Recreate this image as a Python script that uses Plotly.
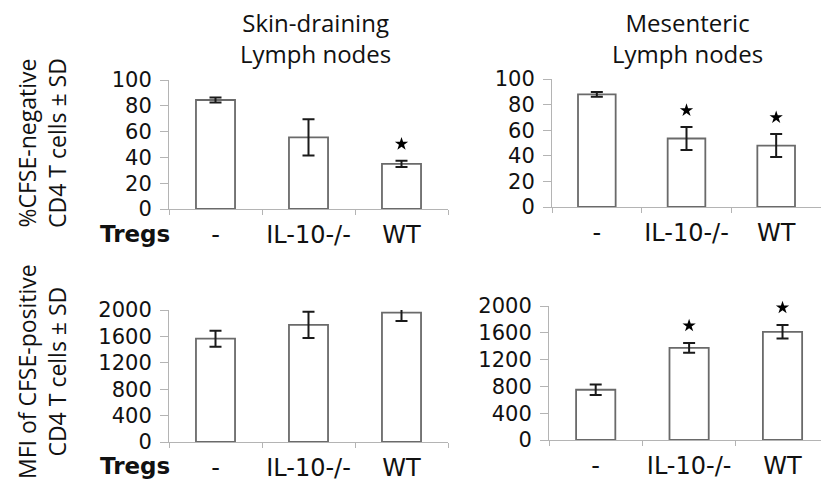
import plotly.graph_objects as go

# Treg groups along the x axis
groups = ["-", "IL-10-/-", "WT"]

# %CFSE-negative CD4 T cells (mean, SD) and significance flags
skin_neg_mean = [84.5, 55.5, 35.0]
skin_neg_sd = [2.0, 14.0, 2.4]
skin_neg_sig = [False, False, True]

mes_neg_mean = [88.0, 53.5, 48.0]
mes_neg_sd = [1.8, 9.0, 9.0]
mes_neg_sig = [False, True, True]

# MFI of CFSE-positive CD4 T cells (mean, SD) and significance flags
skin_mfi_mean = [1565, 1775, 1960]
skin_mfi_sd = [120, 200, 125]
skin_mfi_sig = [False, False, False]

mes_mfi_mean = [750, 1375, 1615]
mes_mfi_sd = [80, 72, 100]
mes_mfi_sig = [False, True, True]

pct_ticks = [0, 20, 40, 60, 80, 100]
mfi_ticks = [0, 400, 800, 1200, 1600, 2000]

W, H = 821, 493
AXIS_GRAY = "#b4b4b4"
BAR_EDGE = "#6a6a6a"
TICK_FONT = dict(family="DejaVu Sans", size=21, color="#111111")
CAT_FONT = dict(family="DejaVu Sans", size=24, color="#111111")
TEXT_FONT = dict(family="Open Sans", size=24, color="#111111")


def px_x(p):
    return p / W


def px_y(p):
    return (H - p) / H


# panel definitions: data, axis suffix, y max, ticks, x domain (px), y domain (px), x range
panels = [
    (skin_neg_mean, skin_neg_sd, skin_neg_sig, "", 100, pct_ticks,
     (169, 448), (209, 80), [-0.5, 2.5]),
    (mes_neg_mean, mes_neg_sd, mes_neg_sig, "2", 100, pct_ticks,
     (552, 821), (207, 79), [-0.5, 2.5]),
    (skin_mfi_mean, skin_mfi_sd, skin_mfi_sig, "3", 2000, mfi_ticks,
     (169, 448), (442, 310), [-0.5, 2.5]),
    (mes_mfi_mean, mes_mfi_sd, mes_mfi_sig, "4", 2000, mfi_ticks,
     (549, 821), (440, 306), [-0.5, 2.412]),
]

fig = go.Figure()
layout_axes = {}

for mean, sd, sig, suf, ymax, ticks, xd, yd, xr in panels:
    xa, ya = "x" + suf, "y" + suf
    fig.add_trace(go.Bar(
        x=groups, y=mean, width=0.42,
        marker=dict(color="white", line=dict(color=BAR_EDGE, width=1.8)),
        error_y=dict(type="data", array=sd, visible=True,
                     color="#1a1a1a", thickness=2, width=6),
        xaxis=xa, yaxis=ya, hoverinfo="skip", cliponaxis=False,
    ))
    star_x = [g for g, s in zip(groups, sig) if s]
    star_y = [m + e + 0.13 * ymax for m, e, s in zip(mean, sd, sig) if s]
    if star_x:
        fig.add_trace(go.Scatter(
            x=star_x, y=star_y, mode="markers", cliponaxis=False,
            marker=dict(symbol="star", size=10, color="black"),
            xaxis=xa, yaxis=ya, hoverinfo="skip",
        ))
    layout_axes["xaxis" + suf] = dict(
        domain=[px_x(xd[0]), px_x(xd[1])], range=xr, type="category",
        anchor=ya, showline=True, linecolor=AXIS_GRAY, linewidth=1,
        ticks="outside", tickson="boundaries", ticklen=5, tickcolor=AXIS_GRAY,
        tickfont=CAT_FONT, ticklabelstandoff=4, tickangle=0,
        showgrid=False, zeroline=False, fixedrange=True, automargin=False,
    )
    layout_axes["yaxis" + suf] = dict(
        domain=[px_y(yd[0]), px_y(yd[1])], range=[0, ymax],
        anchor=xa, tickmode="array", tickvals=ticks,
        showline=True, linecolor=AXIS_GRAY, linewidth=1,
        ticks="outside", ticklen=8, tickcolor=AXIS_GRAY,
        tickfont=TICK_FONT, ticklabelstandoff=4,
        showgrid=False, zeroline=False, fixedrange=True, automargin=False,
    )

annotations = [
    dict(text="Skin-draining<br>Lymph nodes", x=px_x(315), y=px_y(38),
         xanchor="center", yanchor="middle", font=TEXT_FONT),
    dict(text="Mesenteric<br>Lymph nodes", x=px_x(687), y=px_y(38),
         xanchor="center", yanchor="middle", font=TEXT_FONT),
    dict(text="%CFSE-negative<br>CD4 T cells ± SD", x=px_x(42), y=px_y(143),
         textangle=-90, xanchor="center", yanchor="middle",
         font=dict(family="Open Sans", size=23, color="#111111")),
    dict(text="MFI of CFSE-positive<br>CD4 T cells ± SD", x=px_x(42), y=px_y(372),
         textangle=-90, xanchor="center", yanchor="middle",
         font=dict(family="Open Sans", size=23, color="#111111")),
    dict(text="<b>Tregs</b>", x=px_x(135), y=px_y(234),
         xanchor="center", yanchor="middle",
         font=dict(family="DejaVu Sans", size=23, color="#111111")),
    dict(text="<b>Tregs</b>", x=px_x(135), y=px_y(466),
         xanchor="center", yanchor="middle",
         font=dict(family="DejaVu Sans", size=23, color="#111111")),
]
for a in annotations:
    a.update(xref="paper", yref="paper", showarrow=False)

fig.update_layout(
    width=W, height=H, margin=dict(l=0, r=0, t=0, b=0, autoexpand=False),
    paper_bgcolor="white", plot_bgcolor="white",
    showlegend=False, annotations=annotations, bargap=0.58,
    **layout_axes,
)

fig.write_html("out.html", config={"displayModeBar": False})
